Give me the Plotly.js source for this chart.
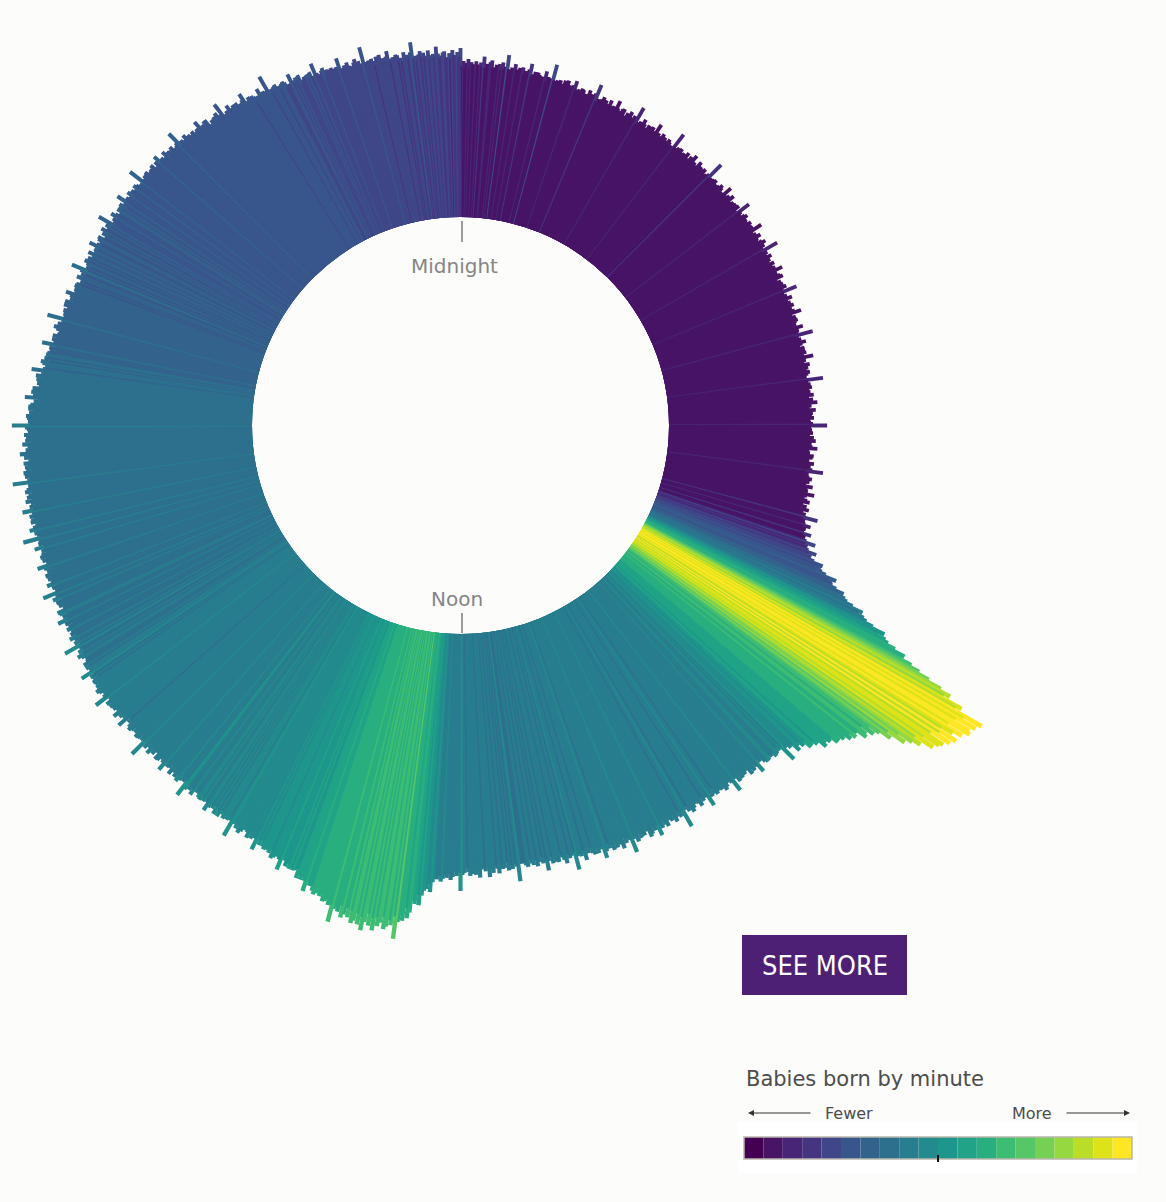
<!DOCTYPE html>
<html>
<head>
<meta charset="utf-8">
<script src="https://cdn.plot.ly/plotly-3.0.1.min.js"></script>
<style>
html, body { margin:0; padding:0; width:1166px; height:1202px; overflow:hidden; background:#fcfcfb; }
#chart { position:absolute; left:-148px; top:-183px; width:1330px; height:1400px; }
</style>
</head>
<body>
<div id="chart"></div>
<script>
// Births per minute of the day (one row per hour, 60 minutes each)
const births = [
168,150,155,148,153,157,149,154,152,149,155,152,147,154,150,160,149,153,148,155,157,150,147,153,151,154,148,156,149,152,164,150,147,152,146,156,151,148,153,147,154,148,151,145,153,159,147,149,152,146,152,150,144,149,147,155,145,150,147,149,
164,148,144,149,146,150,147,143,151,145,152,144,148,145,149,154,146,143,147,144,149,148,143,145,141,150,144,147,142,149,159,142,145,140,146,149,143,147,142,144,149,140,144,145,141,152,145,140,143,146,147,140,141,145,139,148,143,140,146,141,
157,139,142,144,140,148,144,141,138,145,145,142,146,139,143,152,141,144,138,142,146,139,144,142,138,145,143,140,141,138,157,142,139,144,140,145,137,142,143,139,146,141,138,145,142,149,140,143,139,141,147,138,144,140,143,145,141,137,142,144,
159,141,143,138,144,145,140,142,138,143,146,144,139,141,137,150,142,139,144,140,147,138,141,143,142,144,139,145,140,138,154,143,140,141,144,146,138,143,140,142,145,143,137,144,139,152,141,140,143,138,146,142,139,141,144,147,140,144,138,141,
156,138,143,136,141,145,137,142,140,137,144,141,136,143,139,149,138,142,137,144,146,139,136,142,140,143,137,145,138,141,154,140,137,142,136,146,141,138,143,137,145,139,142,136,144,150,138,140,143,137,144,142,136,141,139,147,137,142,139,141,
155,137,140,142,138,146,142,139,136,143,143,140,144,137,141,150,139,142,136,140,145,138,143,141,137,144,142,139,140,137,156,141,138,143,139,144,136,141,142,138,145,140,137,144,141,148,139,142,138,140,146,137,143,139,142,144,140,136,141,143,
157,141,137,142,139,143,140,136,144,138,146,138,142,139,143,148,140,137,141,138,145,144,139,141,137,146,140,143,138,145,156,139,142,137,143,146,140,144,139,141,148,139,143,144,140,151,144,139,142,145,148,141,142,146,140,149,144,141,147,142,
160,145,148,146,149,155,147,151,148,150,158,150,153,151,155,165,155,158,156,160,169,161,165,164,169,179,173,178,180,185,197,189,194,195,200,209,205,212,215,222,234,230,237,241,249,263,257,266,270,279,291,289,301,311,323,338,350,344,366,360,
392,372,388,366,384,386,362,380,371,358,378,359,374,352,369,366,348,362,341,350,342,326,336,316,322,310,298,306,292,300,302,292,290,294,287,291,284,286,280,283,283,275,277,271,274,277,267,269,264,266,266,257,260,254,256,260,250,252,247,249,
262,244,246,241,247,248,243,245,241,246,246,244,239,241,237,250,242,239,244,240,245,236,239,241,240,242,237,243,238,236,250,239,236,237,240,242,234,239,236,238,240,238,232,239,234,247,236,235,238,233,241,237,234,236,239,242,235,239,233,236,
253,235,240,233,238,242,234,239,237,234,242,239,234,241,237,247,236,240,235,242,244,237,234,240,238,241,235,243,236,239,252,238,235,240,234,244,239,236,241,235,242,236,239,233,241,247,235,237,240,234,240,238,232,237,235,243,233,238,235,237,
250,232,235,237,233,241,237,234,231,238,237,234,238,231,235,244,233,236,230,234,238,231,236,234,230,237,235,232,233,230,250,235,232,237,233,238,230,235,236,232,240,235,232,239,236,243,234,237,233,235,243,234,240,236,239,241,237,233,238,240,
256,238,241,237,242,245,239,243,240,244,247,241,245,244,248,258,250,255,257,262,272,262,271,268,280,286,276,289,284,291,308,286,295,290,297,300,288,294,298,289,303,291,299,287,296,305,292,300,289,297,300,288,295,286,293,297,285,292,287,290,
304,287,288,283,285,286,280,282,278,280,282,279,274,275,271,282,272,269,272,268,272,263,265,266,264,266,261,265,260,258,271,261,259,259,261,263,255,259,256,257,258,256,250,256,251,263,252,251,254,249,255,250,247,249,252,255,248,252,246,249,
264,248,244,249,246,250,247,243,251,245,251,243,247,244,248,253,245,242,246,243,247,246,241,243,239,248,242,245,240,247,256,239,242,237,243,246,240,244,239,241,245,236,240,241,237,248,241,236,239,242,243,236,237,241,235,244,239,236,242,237,
255,237,239,234,240,241,236,238,234,239,241,239,234,236,232,245,237,234,239,235,243,234,237,239,238,240,235,241,236,234,250,239,236,237,240,242,234,239,236,238,239,237,231,238,233,246,235,234,237,232,237,233,230,232,235,238,231,235,229,232,
247,229,234,227,232,236,228,233,231,228,234,231,226,233,229,239,228,232,227,234,235,228,225,231,229,232,226,234,227,230,242,228,225,230,224,234,229,226,231,225,232,226,229,223,231,237,225,227,230,224,231,229,223,228,226,234,224,229,226,228,
243,225,228,230,226,234,230,227,224,231,230,227,231,224,228,237,226,229,223,227,232,225,230,228,224,231,229,226,227,224,242,227,224,229,225,230,222,227,228,224,229,224,221,228,225,232,223,226,222,224,229,220,226,222,225,227,223,219,224,226,
239,221,223,218,224,225,220,222,218,223,223,221,216,218,214,227,219,216,221,217,220,211,214,216,215,217,212,218,213,211,223,212,209,210,213,215,207,212,209,211,210,208,202,209,204,217,206,205,208,203,208,204,201,203,206,209,202,206,200,203,
218,202,198,203,200,204,201,197,205,199,205,197,201,198,202,207,199,196,200,197,201,200,195,197,193,202,196,199,194,201,211,194,197,192,198,201,195,199,194,196,201,192,196,197,193,204,197,192,195,198,199,192,193,197,191,200,195,192,198,193,
208,190,193,195,191,199,195,192,189,196,196,193,197,190,194,203,192,195,189,193,197,190,195,193,189,196,194,191,192,189,207,192,189,194,190,195,187,192,193,189,195,190,187,194,191,198,189,192,188,190,195,186,192,188,191,193,189,185,190,192,
203,185,190,183,188,192,184,189,187,184,189,186,181,188,184,194,183,187,182,189,189,182,179,185,183,186,180,188,181,184,195,181,178,183,177,187,182,179,184,178,184,178,181,175,183,189,177,179,182,176,181,179,173,178,176,184,174,179,176,178,
193,175,177,172,178,179,174,176,172,177,178,176,171,173,169,182,174,171,176,172,177,168,171,173,172,174,169,175,170,168,182,171,168,169,172,174,166,171,168,170,171,169,163,170,165,178,167,166,169,164,171,167,164,166,169,172,165,169,163,166,
182,166,162,167,164,168,165,161,169,163,170,162,166,163,167,172,164,161,165,162,167,166,161,163,159,168,162,165,160,167,177,160,163,158,164,167,161,165,160,162,167,158,162,163,159,170,163,158,161,164,165,158,159,163,157,166,161,158,164,159
];

// Colour bins (lower bound of bins 1..19) and the 20 legend colours
const colourBreaks = [135,154,158,162,174,196,210,234,246,256,266,278,294,308,320,334,348,362,374];
const viridisSteps = ['#440154','#471466','#482576','#453581','#3f4788','#39568c','#33638d','#2d708e','#287d8e','#238a8d',
                      '#1f968b','#20a386','#29af7f','#3dbc74','#56c667','#75d054','#95d840','#bade28','#dde318','#fde725'];

const midnightLabel = 'Midnight';
const noonLabel = 'Noon';
const legendTitle = 'Babies born by minute';
const fewerLabel = 'Fewer';
const moreLabel = 'More';
const buttonLabel = 'SEE MORE';

const minutesPerDay = births.length; // 1440
const minuteOfDay = births.map((_, i) => i);
const theta = minuteOfDay.map(m => m * 360 / minutesPerDay);
function binOf(v) { let k = 0; while (k < colourBreaks.length && v >= colourBreaks[k]) k++; return k; }
const barColours = births.map(v => viridisSteps[binOf(v)]);

// page geometry helpers (plot div is offset so the polar area can be larger than the window)
const W = 1330, H = 1400, OX = 148, OY = 183;
const px = x => (x + OX) / W;
const py = y => 1 - (y + OY) / H;
const FONT = 'DejaVu Sans, Verdana, sans-serif';

const trace = {
  type: 'barpolar',
  r: births,
  theta: theta,
  width: 360 / minutesPerDay,
  marker: { color: barColours, line: { color: barColours, width: 2.2 } },
  hoverinfo: 'skip'
};

const shapes = [];
const annotations = [];

// Midnight / Noon ticks
shapes.push({ type:'line', xref:'paper', yref:'paper', x0:px(462), x1:px(462), y0:py(221), y1:py(242), line:{ color:'#9a9a9a', width:2 } });
shapes.push({ type:'line', xref:'paper', yref:'paper', x0:px(462), x1:px(462), y0:py(613), y1:py(633), line:{ color:'#9a9a9a', width:2 } });
annotations.push({ xref:'paper', yref:'paper', x:px(454), y:py(266), text:midnightLabel, showarrow:false, xanchor:'center', yanchor:'middle', font:{ family:FONT, size:20, color:'#858585' } });
annotations.push({ xref:'paper', yref:'paper', x:px(457), y:py(599), text:noonLabel, showarrow:false, xanchor:'center', yanchor:'middle', font:{ family:FONT, size:20, color:'#858585' } });

// SEE MORE button
shapes.push({ type:'rect', xref:'paper', yref:'paper', x0:px(742), x1:px(907), y0:py(935), y1:py(995), fillcolor:'#4e2075', line:{ width:0 } });
annotations.push({ xref:'paper', yref:'paper', x:px(825), y:py(965), text:buttonLabel, showarrow:false, xanchor:'center', yanchor:'middle', font:{ family:'DejaVu Sans Condensed, DejaVu Sans, sans-serif', size:27, color:'#ffffff' } });

// Legend
shapes.push({ type:'rect', xref:'paper', yref:'paper', x0:px(738), x1:px(1137), y0:py(1122), y1:py(1173), fillcolor:'#ffffff', line:{ width:0 } });
annotations.push({ xref:'paper', yref:'paper', x:px(744), y:py(1079), text:legendTitle, showarrow:false, xanchor:'left', yanchor:'middle', font:{ family:FONT, size:21, color:'#4d4d4d' } });
annotations.push({ xref:'paper', yref:'paper', x:px(849), y:py(1113), text:fewerLabel, showarrow:false, xanchor:'center', yanchor:'middle', font:{ family:FONT, size:16, color:'#4d4d4d' } });
annotations.push({ xref:'paper', yref:'paper', x:px(1032), y:py(1113), text:moreLabel, showarrow:false, xanchor:'center', yanchor:'middle', font:{ family:FONT, size:16, color:'#4d4d4d' } });
annotations.push({ xref:'paper', yref:'paper', x:px(748), y:py(1113), ax:64, ay:0, text:'', showarrow:true, arrowhead:2, arrowsize:1, arrowwidth:1.2, arrowcolor:'#333333' });
annotations.push({ xref:'paper', yref:'paper', x:px(1130), y:py(1113), ax:-65, ay:0, text:'', showarrow:true, arrowhead:2, arrowsize:1, arrowwidth:1.2, arrowcolor:'#333333' });
const lx0 = 744, lx1 = 1132, ly0 = 1137, ly1 = 1159;
const stepW = (lx1 - lx0) / viridisSteps.length;
viridisSteps.forEach((c, i) => {
  shapes.push({ type:'rect', xref:'paper', yref:'paper', x0:px(lx0 + i*stepW), x1:px(lx0 + (i+1)*stepW), y0:py(ly0), y1:py(ly1), fillcolor:c, line:{ width:0 } });
});
shapes.push({ type:'rect', xref:'paper', yref:'paper', x0:px(lx0), x1:px(lx1), y0:py(ly0), y1:py(ly1), line:{ color:'#b8b6ad', width:1.5 } });
shapes.push({ type:'line', xref:'paper', yref:'paper', x0:px(938), x1:px(938), y0:py(1155), y1:py(1162), line:{ color:'#111111', width:2 } });

const layout = {
  width: W, height: H,
  margin: { l:0, r:0, t:0, b:0 },
  paper_bgcolor: '#fcfcfb',
  showlegend: false,
  polar: {
    domain: { x: [0, 1217 / W], y: [1 - 1217 / H, 1] },
    hole: 208.5 / 608.5,
    bgcolor: 'rgba(0,0,0,0)',
    radialaxis: { visible: false, range: [0, 400] },
    angularaxis: { visible: false, rotation: 90, direction: 'clockwise', thetaunit: 'degrees' }
  },
  shapes: shapes,
  annotations: annotations
};

Plotly.newPlot('chart', [trace], layout, { displayModeBar: false, staticPlot: true });
</script>
</body>
</html>
